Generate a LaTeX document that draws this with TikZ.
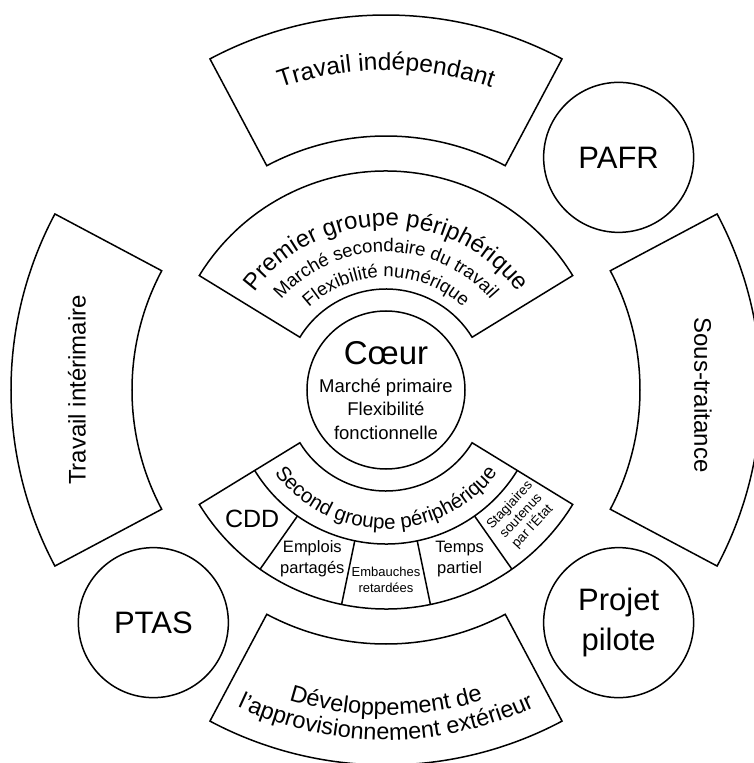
\documentclass[tikz,border=0pt]{standalone}
\usepackage{fontspec}
\setmainfont{Liberation Sans}
\usetikzlibrary{decorations.text}

% annular sector: start angle, end angle, inner radius, outer radius
\newcommand{\ringpart}[4]{%
  \draw[ring] (#1:#4) arc[start angle=#1, end angle=#2, radius=#4]
    -- (#2:#3) arc[start angle=#2, end angle=#1, radius=#3] -- cycle;}
% text on an arc: radius, start angle, end angle, text
\newcommand{\arctext}[4]{%
  \path[decorate, decoration={text along path, text align=center, text={#4}}]
    (#2:#1) arc[start angle=#2, end angle=#3, radius=#1];}

\begin{document}
\begin{tikzpicture}[x=1pt, y=1pt,
    ring/.style={line width=1.5pt, line join=miter},
    bubble/.style={circle, draw, line width=1.5pt, minimum size=150pt, inner sep=0pt}]
    \useasboundingbox (-386,-373) rectangle (367,390);

    % outer ring
    \ringpart{62}{118}{254}{375}
    \ringpart{152}{208}{254}{375}
    \ringpart{-28}{28}{254}{375}
    \ringpart{242}{298}{254}{375}
    \arctext{320}{118}{62}{|\fontsize{24.5}{24}\selectfont|Travail indépendant}
    \node[rotate=90, font=\fontsize{24}{24}\selectfont] (interim) at (-309,0) {Travail intérimaire};
    \node[rotate=-90, font=\fontsize{24}{24}\selectfont] (soustrait) at (317,-5) {Sous-traitance};
    \arctext{325}{242}{298}{|\fontsize{23.5}{23}\selectfont|Développement de}
    \arctext{350}{242}{298}{|\fontsize{23.5}{23}\selectfont|l'approvisionnement extérieur}

    \node[bubble, font=\fontsize{31}{31}\selectfont] (pafr) at (45:329) {PAFR};
    \node[bubble, font=\fontsize{31}{40}\selectfont, align=center] (pilote) at (-45:329) {Projet\\pilote};
    \node[bubble, font=\fontsize{31}{31}\selectfont] (ptas) at (225:329) {PTAS};

    % premier groupe
    \ringpart{31.5}{148.5}{101}{219}
    \arctext{164}{148.5}{31.5}{|\fontsize{24}{24}\selectfont|Premier groupe périphérique}
    \arctext{138}{148.5}{31.5}{|\fontsize{18.5}{18}\selectfont|Marché secondaire du travail}
    \arctext{113}{148.5}{31.5}{|\fontsize{18.5}{18}\selectfont|Flexibilité numérique}

    % coeur
    \node[circle, draw, line width=1.5pt, minimum size=158pt] (coeur) at (0,0) {};
    \node[font=\fontsize{33}{33}\selectfont] (coeurtitre) at (0,37) {Cœur};
    \node[align=center, font=\fontsize{18.5}{23.5}\selectfont] (coeurtexte) at (0,-19) {Marché primaire\\Flexibilité\\fonctionnelle};

    % second groupe
    \ringpart{211.5}{328.5}{101}{219}
    \draw[ring] (211.5:154) arc[start angle=211.5, end angle=328.5, radius=154];
    \foreach \k in {1,...,4}
        \draw[ring] ({211.5+\k*23.4}:154) -- ({211.5+\k*23.4}:219);
    \arctext{139}{211.5}{328.5}{|\fontsize{20.5}{20}\selectfont|Second groupe périphérique}
    \node[font=\fontsize{25}{25}\selectfont] (cdd) at (224:186) {CDD};
    \node[align=center, inner sep=0pt, font=\fontsize{16.5}{21}\selectfont] (emplois) at (246.4:184) {Emplois\\partagés};
    \node[align=center, inner sep=0pt, font=\fontsize{13}{16}\selectfont] (embauches) at (270:190) {Embauches\\retardées};
    \node[align=center, inner sep=0pt, font=\fontsize{16.5}{21}\selectfont] (temps) at (293.6:184) {Temps\\partiel};
    \node[align=center, inner sep=0pt, rotate=47, font=\fontsize{13.5}{15.5}\selectfont] (stagiaires) at (317:185) {Stagiaires\\soutenus\\par l'État};
\end{tikzpicture}
\end{document}
